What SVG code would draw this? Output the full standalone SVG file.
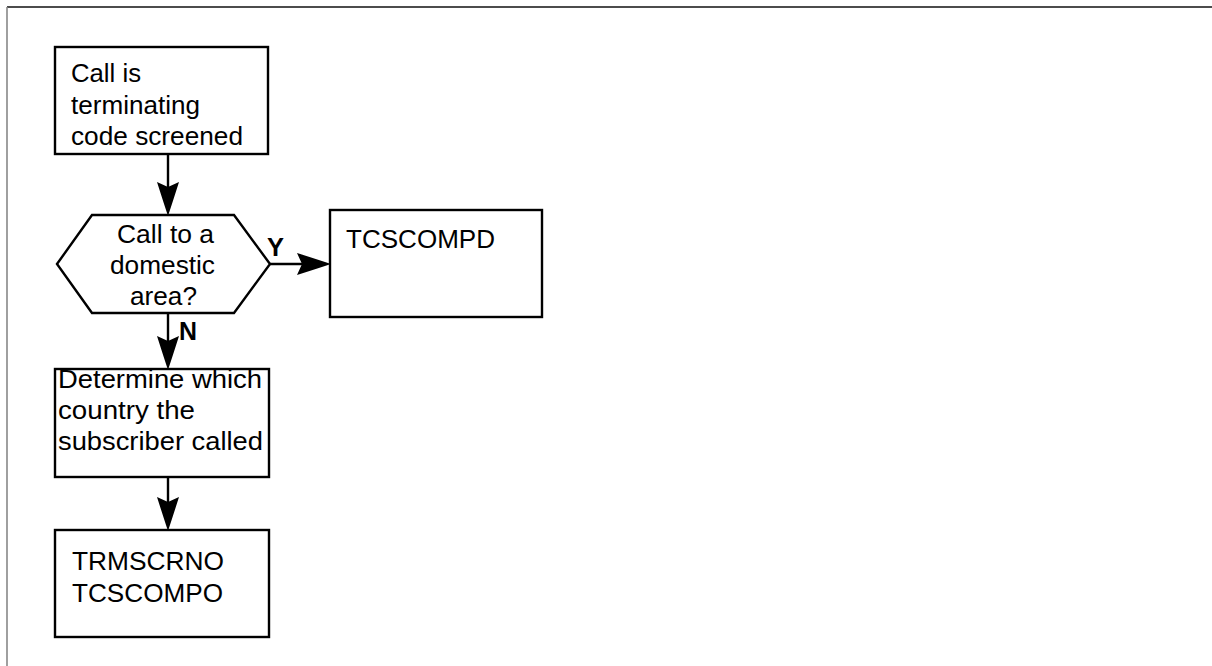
<svg xmlns="http://www.w3.org/2000/svg" width="1212" height="666" viewBox="0 0 1212 666">
<style>
  .box{fill:#fff;stroke:#000;stroke-width:2.4}
  .t{font-family:"Liberation Sans",Arial,sans-serif;font-size:25px;fill:#000}
  .lbl{font-family:"Liberation Sans",Arial,sans-serif;font-size:25px;font-weight:bold;fill:#000}
  .conn{stroke:#000;stroke-width:2.4;fill:none}
</style>
<defs>
  <marker id="ah" markerUnits="userSpaceOnUse" viewBox="0 0 34 22" markerWidth="34" markerHeight="22" refX="12" refY="11" orient="auto">
    <path d="M34,11 Q22,7 0,0 L5,11 L0,22 Q22,15 34,11 Z" fill="#000"/>
  </marker>
</defs>
<rect width="1212" height="666" fill="#fff"/>
<line x1="7" y1="7" x2="1212" y2="7" stroke="#111" stroke-width="1.6"/>
<line x1="7" y1="7" x2="7" y2="666" stroke="#888" stroke-width="1.6"/>

<g id="connectors">
  <line class="conn" x1="168" y1="154" x2="168" y2="194" marker-end="url(#ah)"/>
  <line class="conn" x1="270" y1="264" x2="309" y2="264" marker-end="url(#ah)"/>
  <line class="conn" x1="168" y1="313" x2="168" y2="348" marker-end="url(#ah)"/>
  <line class="conn" x1="168" y1="477" x2="168" y2="509" marker-end="url(#ah)"/>
  <text class="lbl" x="267" y="256" textLength="17" lengthAdjust="spacingAndGlyphs">Y</text>
  <text class="lbl" x="179" y="340" textLength="18" lengthAdjust="spacingAndGlyphs">N</text>
</g>

<g id="start">
  <rect class="box" x="55" y="47" width="213" height="107"/>
  <text class="t" x="71" y="82" textLength="70" lengthAdjust="spacingAndGlyphs">Call is</text>
  <text class="t" x="71" y="114" textLength="129" lengthAdjust="spacingAndGlyphs">terminating</text>
  <text class="t" x="71" y="145" textLength="172" lengthAdjust="spacingAndGlyphs">code screened</text>
</g>

<g id="decision">
  <polygon class="box" points="57,264 92,215 234,215 270,264 234,313 92,313"/>
  <text class="t" x="117" y="243" textLength="97" lengthAdjust="spacingAndGlyphs">Call to a</text>
  <text class="t" x="110" y="274" textLength="105" lengthAdjust="spacingAndGlyphs">domestic</text>
  <text class="t" x="130" y="305" textLength="67" lengthAdjust="spacingAndGlyphs">area?</text>
</g>

<g id="tcscompd">
  <rect class="box" x="330" y="210" width="212" height="107"/>
  <text class="t" x="346" y="248" textLength="149" lengthAdjust="spacingAndGlyphs">TCSCOMPD</text>
</g>

<g id="determine">
  <rect class="box" x="55" y="369" width="214" height="108"/>
  <text class="t" x="58" y="388" textLength="204" lengthAdjust="spacingAndGlyphs">Determine which</text>
  <text class="t" x="58" y="419" textLength="137" lengthAdjust="spacingAndGlyphs">country the</text>
  <text class="t" x="58" y="450" textLength="205" lengthAdjust="spacingAndGlyphs">subscriber called</text>
</g>

<g id="result">
  <rect class="box" x="55" y="530" width="214" height="107"/>
  <text class="t" x="72" y="570" textLength="152" lengthAdjust="spacingAndGlyphs">TRMSCRNO</text>
  <text class="t" x="72" y="602" textLength="151" lengthAdjust="spacingAndGlyphs">TCSCOMPO</text>
</g>
</svg>
